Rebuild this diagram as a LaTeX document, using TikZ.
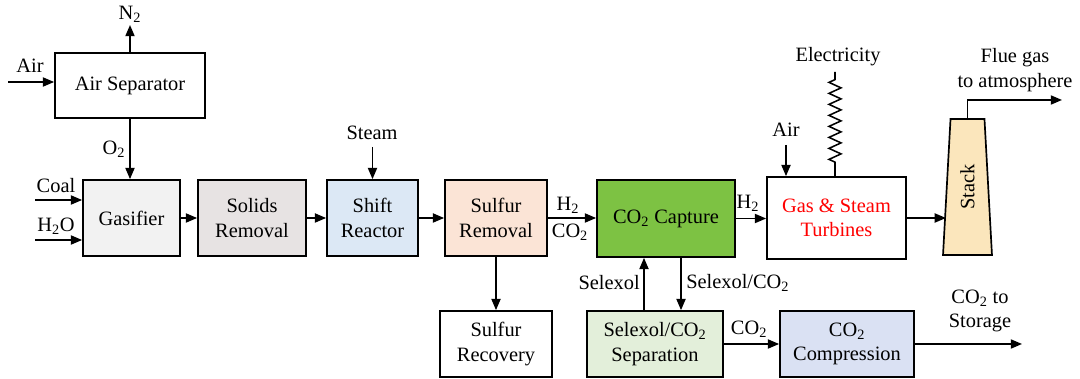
\documentclass[tikz,border=0pt]{standalone}
\usepackage{fontspec}
\setmainfont{Liberation Serif}
\usetikzlibrary{positioning, shapes.geometric, decorations.pathmorphing, arrows.meta}
\definecolor{gasgray}{HTML}{F2F2F2}
\definecolor{solidgray}{HTML}{E7E3E3}
\definecolor{shiftblue}{HTML}{DCE8F5}
\definecolor{sulfpeach}{HTML}{FBE4D6}
\definecolor{capgreen}{HTML}{7DC243}
\definecolor{sepgreen}{HTML}{E3EFDA}
\definecolor{compblue}{HTML}{DAE1F3}
\definecolor{stacktan}{HTML}{FBE6BC}
\newcommand{\procfont}{\fontsize{14.5}{17.5}\selectfont}

\begin{document}
\begin{tikzpicture}[x=0.025cm, y=-0.025cm,
            unit/.style ={rectangle, draw, line width=1.2pt, align=center,
            font=\procfont, inner sep=0pt},
            lbl/.style ={font=\procfont, inner sep=0pt, align=center},
            flow/.style ={-{Triangle[length=8pt, width=6.5pt]}, line width=1.1pt}]

        \useasboundingbox (0,0) rectangle (1080,379);

        % unidades del proceso
        \node[unit, minimum width=3.75cm, minimum height=1.625cm] (airsep) at (130, 85.5) {Air Separator};
        \node[unit, fill=gasgray, minimum width=2.425cm, minimum height=1.9cm] (gasifier) at (131.5, 218) {Gasifier};
        \node[unit, fill=solidgray, minimum width=2.7cm, minimum height=1.9cm] (solids) at (252, 218) {Solids\\Removal};
        \node[unit, fill=shiftblue, minimum width=2.275cm, minimum height=1.9cm] (shift) at (372.5, 218) {Shift\\Reactor};
        \node[unit, fill=sulfpeach, minimum width=2.55cm, minimum height=1.9cm] (sulfrem) at (496, 218) {Sulfur\\Removal};
        \node[unit, fill=capgreen, minimum width=3.45cm, minimum height=1.925cm] (capture) at (666, 218.5) {CO\textsubscript{2} Capture};
        \node[unit, text=red, minimum width=3.475cm, minimum height=2.05cm] (turbines) at (836.5, 218) {Gas \& Steam\\Turbines};
        \node[unit, minimum width=2.8cm, minimum height=1.65cm] (sulfrec) at (496, 344) {Sulfur\\Recovery};
        \node[unit, fill=sepgreen, minimum width=3.4cm, minimum height=1.65cm] (sep) at (655, 344) {Selexol/CO\textsubscript{2}\\Separation};
        \node[unit, fill=compblue, minimum width=3.35cm, minimum height=1.65cm] (comp) at (847, 344) {CO\textsubscript{2}\\Compression};
        \node[trapezium, draw, fill=stacktan, line width=1.2pt, trapezium angle=86, trapezium stretches=true,
              minimum width=1.225cm, minimum height=3.4cm, font=\procfont, inner sep=0pt] (stack) at (967.5, 187) {\rotatebox{90}{Stack}};

        % entradas y salidas libres
        \coordinate (airin) at (8, 82);
        \coordinate (n2out) at (130, 25);
        \coordinate (coalin) at (35, 200);
        \coordinate (h2oin) at (35, 240);
        \coordinate (steamin) at (372.5, 147);
        \coordinate (airtin) at (786, 145);
        \coordinate (elec) at (835, 72);
        \coordinate (flue) at (1062, 100);
        \coordinate (storage) at (1022, 344);

        % etiquetas
        \node[lbl] (airlbl) at (30, 66) {Air};
        \node[lbl] (n2lbl) at (130, 14) {N\textsubscript{2}};
        \node[lbl] (o2lbl) at (114, 149) {O\textsubscript{2}};
        \node[lbl] (coallbl) at (56, 186) {Coal};
        \node[lbl] (h2olbl) at (56, 226) {H\textsubscript{2}O};
        \node[lbl] (steamlbl) at (372, 133) {Steam};
        \node[lbl] (h2lbla) at (568, 205) {H\textsubscript{2}};
        \node[lbl] (co2lbla) at (570, 232) {CO\textsubscript{2}};
        \node[lbl] (h2lblb) at (748, 203) {H\textsubscript{2}};
        \node[lbl] (airtlbl) at (786, 130) {Air};
        \node[lbl] (eleclbl) at (838, 57) {Electricity};
        \node[lbl] (fluelbl) at (1015, 70) {Flue gas\\to atmosphere};
        \node[lbl, anchor=east] (selexlbl) at (640, 283) {Selexol};
        \node[lbl, anchor=west] (selco2lbl) at (686, 283) {Selexol/CO\textsubscript{2}};
        \node[lbl] (co2lblb) at (749, 329) {CO\textsubscript{2}};
        \node[lbl] (storlbl) at (980, 311) {CO\textsubscript{2} to\\Storage};

        % corrientes
        \draw[flow] (airin) -- (airin -| airsep.west);
        \draw[flow] (airsep.north) -- (n2out);
        \draw[flow] (airsep.south) -- (airsep.south |- gasifier.north);
        \draw[flow] (coalin) -- (coalin -| gasifier.west);
        \draw[flow] (h2oin) -- (h2oin -| gasifier.west);

        \draw[flow] (gasifier) -- (solids);
        \draw[flow] (solids) -- (shift);
        \draw[flow] (shift) -- (sulfrem);
        \draw[flow] (sulfrem.east) -- (sulfrem.east -| capture.west);
        \draw[flow] (capture.east) -- (capture.east -| turbines.west);
        \draw[flow] (steamin) -- (shift.north);

        \draw[flow] (turbines.east) -- (turbines.east -| stack.west);
        \draw[flow] (stack.north) |- (flue);
        \draw[flow] (airtin) -- (airtin |- turbines.north);
        \draw[line width=1.1pt] (elec |- turbines.north) -- ++(0,-14)
            decorate[decoration={zigzag, segment length=0.275cm, amplitude=0.15cm}] {-- ++(0,-86)} -- (elec);

        \draw[flow] (sulfrem.south) -- (sulfrec.north);
        \draw[flow] ([xshift=-0.275cm]sep.north) -- ([xshift=-0.275cm]sep.north |- capture.south);
        \draw[flow] ([xshift=0.65cm]sep.north |- capture.south) -- ([xshift=0.65cm]sep.north);
        \draw[flow] (sep) -- (comp);
        \draw[flow] (comp.east) -- (storage);

    \end{tikzpicture}
\end{document}
